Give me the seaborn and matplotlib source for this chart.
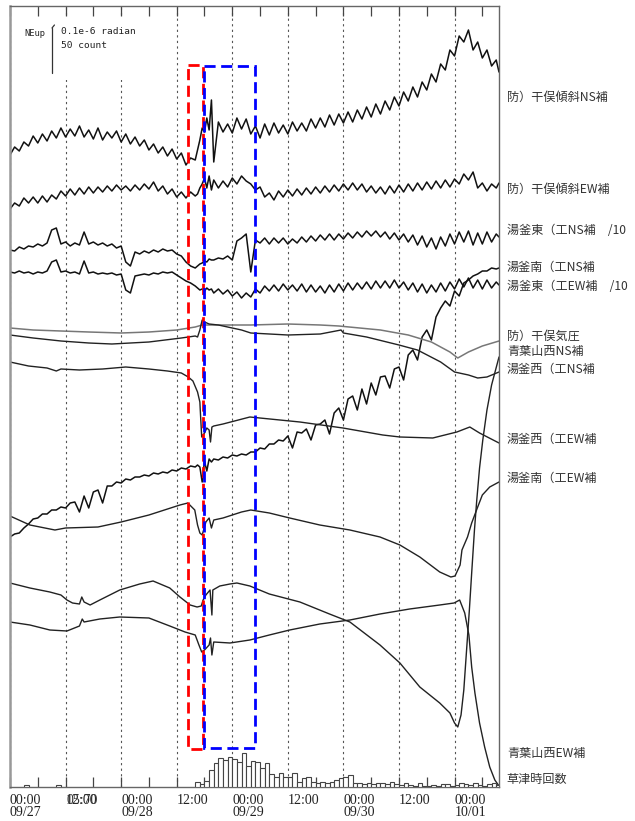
import numpy as np
import pandas as pd
import matplotlib
matplotlib.use("Agg")
import matplotlib.pyplot as plt
from matplotlib.patches import Rectangle
from matplotlib.ticker import MultipleLocator
import seaborn as sns

sns.set_theme(style="white")
plt.rcParams["font.family"] = ["Noto Sans CJK JP", "DejaVu Sans"]

# ---------------- data (hours since 09/27 00:00; vertical level units, larger = lower) -------------
# sample hours for the noisy records
H_A = list(range(0, 41))
H_B = [40.5, 41, 41.5, 42, 42.5, 43, 43.5]
H_C = list(range(44, 106))
H_D = [105.6]
HOURS_N = np.array(H_A + H_B + H_C + H_D, dtype=float)

hoshi_ns = [155, 147, 151, 142, 146, 136, 143, 134, 141, 131,
            138, 128, 137, 129, 136, 126, 137, 130, 139, 128,
            140, 132, 138, 131, 142, 134, 144, 137, 146, 140,
            150, 144, 153, 147, 156, 149, 159, 153, 165, 158, 160,
            150, 140, 128, 132, 118, 130, 100,
            162, 122, 132, 124, 133, 118, 129, 119, 134, 126,
            138, 124, 135, 123, 133, 125, 134, 122, 131, 123,
            131, 119, 128, 118, 127, 115, 125, 114, 123, 112,
            122, 110, 119, 107, 117, 104, 114, 101, 110, 97,
            106, 92, 101, 87, 97, 82, 90, 74, 82, 64,
            70, 50, 56, 36, 42, 30, 50, 42, 58, 50,
            66, 60,
            72]

hoshi_ew = [209, 203, 206, 198, 203, 197, 203, 196, 202, 195,
            199, 191, 196, 189, 195, 188, 194, 187, 193, 187,
            192, 186, 191, 185, 190, 186, 191, 185, 190, 184,
            189, 182, 191, 186, 194, 189, 197, 192, 198, 192, 196,
            194, 188, 184, 178, 188, 176, 190,
            180, 188, 181, 187, 178, 184, 176, 181, 184, 190,
            187, 197, 193, 200, 191, 197, 190, 196, 189, 195,
            188, 194, 187, 193, 186, 192, 185, 191, 184, 190,
            183, 190, 184, 192, 186, 193, 187, 194, 186, 193,
            185, 192, 184, 191, 183, 190, 182, 189, 181, 188,
            180, 187, 179, 184, 174, 180, 172, 188, 183, 191,
            184, 188,
            183]

yug_e_ns = [250, 251, 247, 249, 246, 247, 244, 246, 243, 230,
            228, 244, 242, 246, 243, 245, 232, 244, 242, 245,
            243, 246, 244, 248, 246, 262, 266, 252, 254, 251,
            253, 250, 252, 249, 251, 250, 254, 256, 262, 266, 268,
            266, 264, 263, 261, 262, 259, 260,
            260, 258, 259, 256, 260, 241, 238, 234, 272, 240,
            243, 238, 244, 238, 243, 238, 244, 239, 243, 237,
            242, 236, 241, 235, 240, 234, 240, 234, 239, 233,
            238, 232, 237, 231, 236, 231, 237, 232, 239, 233,
            240, 234, 242, 235, 245, 236, 247, 238, 249, 237,
            246, 234, 244, 232, 242, 231, 245, 233, 244, 232,
            242, 234,
            237]

yug_e_ew = [272, 273, 271, 273, 272, 274, 272, 273, 271, 262,
            260, 272, 271, 273, 272, 274, 261, 273, 272, 274,
            273, 274, 273, 275, 274, 290, 293, 276, 275, 274,
            275, 273, 274, 272, 273, 272, 275, 278, 281, 283, 286,
            288, 290, 289, 291, 288, 290, 289,
            293, 289, 294, 290, 296, 292, 298, 293, 297, 289,
            293, 286, 291, 285, 291, 284, 290, 285, 291, 284,
            292, 285, 292, 286, 293, 285, 292, 284, 291, 283,
            290, 283, 289, 282, 289, 281, 288, 281, 288, 280,
            288, 282, 290, 283, 292, 284, 293, 285, 292, 283,
            291, 282, 289, 279, 287, 278, 288, 280, 289, 280,
            288, 282,
            285]

yug_s_ns = [537, 534, 533, 528, 524, 519, 518, 514, 514, 510,
            510, 507, 508, 503, 502, 512, 496, 508, 492, 490,
            503, 486, 486, 482, 483, 479, 480, 477, 477, 475,
            476, 473, 474, 472, 473, 470, 471, 468, 469, 466, 467,
            465, 467, 482, 461, 471, 459, 462,
            459, 460, 457, 458, 455, 456, 454, 455, 452, 452,
            448, 449, 444, 444, 440, 441, 436, 448, 432, 433,
            429, 440, 425, 424, 420, 434, 413, 408, 420, 399,
            396, 410, 389, 404, 383, 395, 377, 376, 388, 369,
            367, 380, 355, 350, 360, 337, 330, 340, 317, 308,
            301, 306, 291, 296, 283, 280, 276, 274, 271, 271,
            268, 269,
            268]

press_h = [0, 5, 11, 17, 24, 30, 36, 40, 41.5, 45, 52, 60, 67, 71, 80, 86, 91, 95, 96.7, 99, 102, 105.6]
press_v = [328, 330, 331, 332, 333, 332, 330, 327, 325, 325, 325, 324, 325, 326, 330, 335, 342, 352, 358, 352, 346, 341]

yug_w_ns_h = [0, 5, 11, 17, 22, 30, 37, 40, 40.5, 41, 41.5, 42, 43, 45, 50, 52, 56, 60, 67, 71.5,
              72, 77, 84, 88, 93, 96, 99, 101, 103, 105.6]
yug_w_ns_v = [335, 338, 341, 343, 344, 342, 338, 336, 337, 330, 320, 322, 324, 325, 330, 333, 334, 335, 334, 330,
              333, 337, 345, 350, 362, 372, 375, 378, 377, 372]

yug_w_ew_h = [0, 4, 8, 10, 11, 15, 20, 25, 30, 34, 37, 38.5, 39.5, 40.5, 41, 41.2, 41.4, 42, 42.5, 43,
              43.3, 43.6, 44, 46, 51.8, 62.6, 71.9, 80.5, 84.2, 91.3, 96.5, 99.3, 101.4, 105.6]
yug_w_ew_v = [362, 366, 368, 371, 369, 370, 369, 367, 369, 371, 373, 377, 381, 392, 402, 420, 437, 433, 428, 430,
              442, 427, 426, 424, 417, 422, 428, 435, 437, 438, 432, 427, 433, 443]

yug_s_ew_h = [0, 4.3, 9.7, 12, 19, 24, 30, 36.7, 38.4, 39.9, 40.5, 41, 41.5, 42.3, 43, 43.5, 44, 46, 50, 52,
              56, 60.4, 66.9, 73.4, 79.9, 84.2, 88.5, 92.8, 95.2, 96.1, 97.2, 97.6, 98.8, 99.7, 101, 102,
              103.6, 105.6]
yug_s_ew_v = [516, 525, 530, 528, 527, 522, 515, 505, 503, 510, 525, 533, 535, 522, 518, 528, 520, 518, 512, 510,
              513, 518, 525, 530, 537, 545, 557, 572, 577, 576, 565, 550, 537, 523, 507, 495,
              487, 482]

aoba_ns_h = [0, 4.3, 8.6, 11, 12.3, 13.5, 15, 15.5, 16, 17.3, 19.4, 23.7, 28, 30.9, 34.5, 36.7, 38.9, 40.4, 41.3, 41.7,
             42.3, 43.2, 43.6, 43.8, 45.3, 47.5, 49, 51.8, 56, 62.6, 69, 73.4, 79.9, 84.2, 88.5, 92.8, 95, 96, 96.7,
             97.4, 98.0, 98.6, 99.2, 99.7, 100.3, 100.8, 101.4, 102.1, 103, 104, 105.6]
aoba_ns_v = [583, 588, 592, 595, 600, 603, 604, 597, 602, 605, 600, 590, 584, 581, 588, 597, 605, 607, 606, 600,
             595, 590, 615, 590, 586, 584, 583, 586, 594, 602, 614, 622, 645, 663, 687, 703, 713, 723, 727,
             715, 690, 650, 610, 573, 530, 500, 468, 440, 410, 385, 357]

aoba_ew_h = [0, 4.3, 8.6, 12.3, 15, 15.6, 16, 19.4, 23.7, 30, 34.5, 37.8, 40, 40.8, 41.4, 42, 43, 43.3, 43.6, 44,
             47.5, 51.8, 56, 60.4, 66.9, 73.4, 79.9, 86.3, 92.8, 95.9, 97.1, 98.2, 99.1, 99.7, 100.4, 101.4, 102.5,
             103.6, 104.7, 105.6]
aoba_ew_v = [622, 625, 630, 631, 626, 619, 622, 619, 617, 618, 626, 632, 635, 645, 652, 650, 645, 638, 655, 642,
             643, 640, 635, 630, 624, 620, 614, 609, 605, 603, 600, 613, 635, 667, 693, 723, 747,
             767, 780, 786]

# hourly earthquake counts (Kusatsu)
eq_hours = [3, 10] + list(range(40, 106))
eq_counts = [2, 2,
             6, 3, 7, 19, 27, 32, 30, 33, 31, 28,
             38, 23, 29, 28, 21, 27, 14, 11, 16, 11,
             11, 16, 6, 10, 11, 6, 4, 6, 4, 6,
             8, 10, 11, 13, 4, 4, 3, 4, 3, 4,
             4, 3, 6, 3, 2, 4, 2, 1, 4, 1,
             1, 2, 1, 3, 3, 1, 2, 4, 3, 2,
             4, 2, 1, 3, 4, 2]

labels = ["防）干俣傾斜NS補", "防）干俣傾斜EW補", "湯釜東（工NS補　/10", "湯釜南（工NS補",
          "湯釜東（工EW補　/10", "防）干俣気圧", "青葉山西NS補", "湯釜西（工NS補",
          "湯釜西（工EW補", "湯釜南（工EW補", "青葉山西EW補", "草津時回数"]
label_levels = [97, 189, 231, 267, 287, 336, 352, 369, 439, 478, 753, 779]

tick_hours = [0, 12, 24, 36, 48, 60, 72, 84, 96]
tick_labels = ["00:00\n09/27", "12:00", "00:00\n09/28", "12:00", "00:00\n09/29",
               "12:00", "00:00\n09/30", "12:00", "00:00\n10/01"]

red_box = (38.4, 41.7, 65, 749)   # hours from/to, level from/to
blue_box = (41.9, 52.9, 66, 748)

# ---------------- drawing ----------------
fig = plt.figure(figsize=(6.35, 8.21), dpi=100)
ax = fig.add_axes([10 / 635, 34 / 821, 489 / 635, 781 / 821])

noisy = [hoshi_ns, hoshi_ew, yug_e_ns, yug_e_ew, yug_s_ns]
for vals in noisy:
    sns.lineplot(x=HOURS_N, y=np.array(vals, float), ax=ax, color="#111111",
                 linewidth=1.1, estimator=None, sort=False, legend=False)

sns.lineplot(x=press_h, y=press_v, ax=ax, color="#777777", linewidth=1.1,
             estimator=None, sort=False, legend=False)
for hh, vv in [(yug_w_ns_h, yug_w_ns_v), (yug_w_ew_h, yug_w_ew_v), (yug_s_ew_h, yug_s_ew_v),
               (aoba_ns_h, aoba_ns_v), (aoba_ew_h, aoba_ew_v)]:
    sns.lineplot(x=hh, y=vv, ax=ax, color="#222222", linewidth=1.0,
                 estimator=None, sort=False, legend=False)

# earthquake count bars on twin axis (45 level units = 50 counts)
eq_df = pd.DataFrame({"hour": np.array(eq_hours, float) + 0.5, "count": np.array(eq_counts, float)})
ax2 = ax.twinx()
sns.barplot(data=eq_df, x="hour", y="count", native_scale=True, width=1.0, ax=ax2,
            color="white", edgecolor="#444444", linewidth=0.8, errorbar=None, saturation=1)

ax.set_xlim(0, 105.6)
ax.set_ylim(787, 6)
ax.set_yticks([])
ax.set_xlabel("")
ax.set_ylabel("")

ax2.set_ylim(0, 781 * 50 / 45)
ax2.set_xlim(0, 105.6)
ax2.set_yticks([])
ax2.set_ylabel("")
ax2.set_xlabel("")
for sp in ax2.spines.values():
    sp.set_visible(False)
ax2.tick_params(axis="x", which="both", length=0, labelbottom=False, labeltop=False)

ax.set_xticks(tick_hours)
ax.set_xticklabels(tick_labels, fontfamily="Liberation Serif", fontsize=10,
                   linespacing=0.95, color="#222222")
for lbl in ax.get_xticklabels():
    lbl.set_horizontalalignment("left")
ax.xaxis.set_minor_locator(MultipleLocator(6))
ax.tick_params(axis="x", which="both", direction="in", top=True, bottom=True,
               length=7, width=0.9, color="#444444", pad=5)
ax.grid(axis="x", which="major", linestyle=(0, (2, 3)), color="#555555", linewidth=0.8)

for side, sp in ax.spines.items():
    sp.set_color("#666666")
    sp.set_linewidth(1.0)
ax.spines["left"].set_color("#999999")
ax.spines["left"].set_linewidth(1.8)

# overlapping garbled label at 12:00 09/27
ax.text(12.1, -0.0095, "05:70", transform=ax.get_xaxis_transform(), ha="left", va="top",
        fontsize=10, fontfamily="Liberation Serif", color="#333333")

# dashed highlight boxes
for (h0, h1, l0, l1), col in [(red_box, "#ff0000"), (blue_box, "#0000ff")]:
    ax.add_patch(Rectangle((h0, l0), h1 - h0, l1 - l0, fill=False, edgecolor=col,
                           linewidth=2.0, linestyle=(0, (4, 2)), zorder=6))

# scale legend (top-left)
ax.add_patch(Rectangle((0.02, 0.905), 0.28, 0.08, transform=ax.transAxes,
                       facecolor="white", edgecolor="none", zorder=1.5))
ax.plot([9.07, 9.07], [28, 73], color="#333333", linewidth=0.9, zorder=3)
ax.plot([9.07, 9.6], [28, 25], color="#333333", linewidth=0.9, zorder=3)
ax.text(3.0, 33, "NEup", fontsize=6.3, fontfamily="DejaVu Sans Mono", va="center", ha="left", color="#222222")
ax.text(11.0, 32, "0.1e-6 radian", fontsize=6.8, fontfamily="DejaVu Sans Mono", va="center", ha="left", color="#222222")
ax.text(11.0, 45, "50 count", fontsize=6.8, fontfamily="DejaVu Sans Mono", va="center", ha="left", color="#222222")

# right-side labels
for txt, lev in zip(labels, label_levels):
    ax.text(1.016, lev, txt, transform=ax.get_yaxis_transform(), va="center", ha="left",
            fontsize=8.7, color="#333333", clip_on=False)

fig.savefig("out.png", dpi=100, facecolor="white")
